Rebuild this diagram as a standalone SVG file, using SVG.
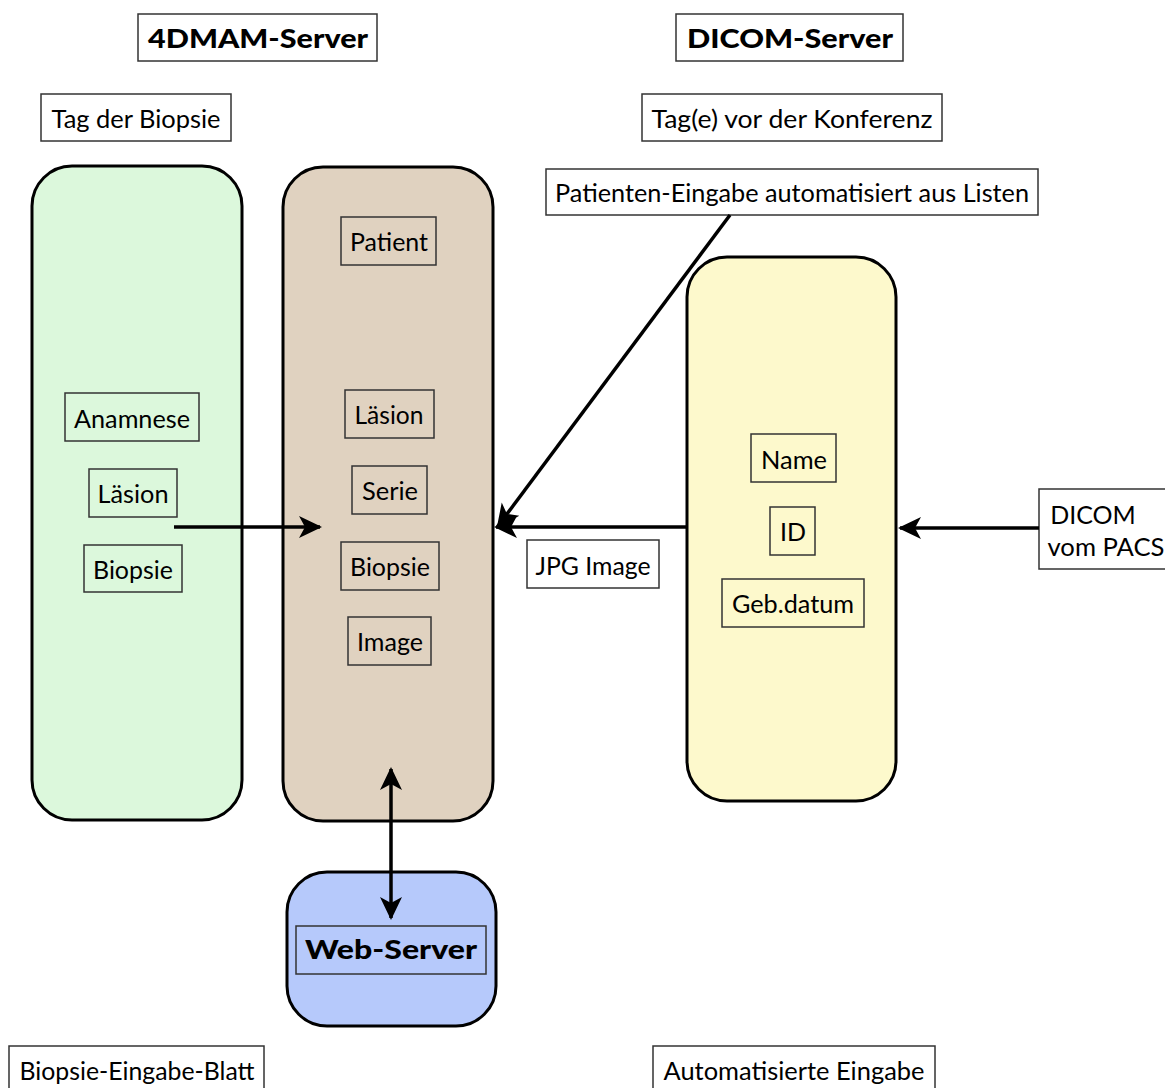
<svg xmlns="http://www.w3.org/2000/svg" width="1165" height="1088" viewBox="0 0 1165 1088">
<style>
text{font-family:Lato,"Liberation Sans",sans-serif;font-size:25px;fill:#000;text-anchor:middle}
.b{font-weight:900;font-size:26px}
.lab{fill:#fff;stroke:#333;stroke-width:1.5}
.in{fill:none;stroke:#333;stroke-width:1.5}
.col{stroke:#000;stroke-width:3}
.con{stroke:#000;stroke-width:3.5;fill:none}
</style>
<defs>
<marker id="ah" markerUnits="userSpaceOnUse" markerWidth="28" markerHeight="28" refX="21" refY="11" orient="auto-start-reverse" viewBox="0 0 28 22">
<path d="M0,0 L23,11 L0,22 L6,11 Z" fill="#000"/>
</marker>
</defs>
<rect width="1165" height="1088" fill="#fff"/>

<g id="title-4dmam"><rect class="lab" x="138" y="14" width="239" height="47"/><text class="b" x="258" y="48" textLength="220" lengthAdjust="spacingAndGlyphs">4DMAM-Server</text></g>
<g id="title-dicom"><rect class="lab" x="676" y="14" width="227" height="47"/><text class="b" x="790" y="48" textLength="206" lengthAdjust="spacingAndGlyphs">DICOM-Server</text></g>
<g id="tag-biopsie"><rect class="lab" x="41" y="94" width="190" height="47"/><text x="136" y="128" textLength="169" lengthAdjust="spacingAndGlyphs">Tag der Biopsie</text></g>
<g id="tag-konferenz"><rect class="lab" x="642" y="94" width="300" height="47"/><text x="792" y="128" textLength="281" lengthAdjust="spacingAndGlyphs">Tag(e) vor der Konferenz</text></g>
<g id="patienten-eingabe"><rect class="lab" x="546" y="169" width="492" height="46"/><text x="792" y="202" textLength="474" lengthAdjust="spacingAndGlyphs">Patienten-Eingabe automatisiert aus Listen</text></g>

<g id="biopsie-blatt-col"><rect class="col" x="32" y="166" width="210" height="654" rx="40" fill="#dcf8dc"/>
<rect class="in" x="65" y="393" width="134" height="48"/><text x="132" y="428" textLength="116" lengthAdjust="spacingAndGlyphs">Anamnese</text>
<rect class="in" x="89" y="469" width="88" height="48"/><text x="133" y="503" textLength="71" lengthAdjust="spacingAndGlyphs">Läsion</text>
<rect class="in" x="84" y="545" width="98" height="47"/><text x="133" y="579" textLength="80" lengthAdjust="spacingAndGlyphs">Biopsie</text>
</g>

<g id="server-4dmam-col"><rect class="col" x="283" y="167" width="210" height="654" rx="40" fill="#e0d2c0"/>
<rect class="in" x="341" y="217" width="95" height="48"/><text x="389" y="251" textLength="78" lengthAdjust="spacingAndGlyphs">Patient</text>
<rect class="in" x="345" y="390" width="89" height="48"/><text x="389" y="424" textLength="69" lengthAdjust="spacingAndGlyphs">Läsion</text>
<rect class="in" x="352" y="466" width="75" height="48"/><text x="390" y="500" textLength="56" lengthAdjust="spacingAndGlyphs">Serie</text>
<rect class="in" x="341" y="542" width="98" height="48"/><text x="390" y="576" textLength="80" lengthAdjust="spacingAndGlyphs">Biopsie</text>
<rect class="in" x="348" y="617" width="83" height="48"/><text x="390" y="651" textLength="66" lengthAdjust="spacingAndGlyphs">Image</text>
</g>

<g id="dicom-col"><rect class="col" x="687" y="257" width="209" height="544" rx="40" fill="#fdf9cc"/>
<rect class="in" x="751" y="434" width="85" height="48"/><text x="794" y="469" textLength="66" lengthAdjust="spacingAndGlyphs">Name</text>
<rect class="in" x="770" y="507" width="45" height="48"/><text x="793" y="541" textLength="26" lengthAdjust="spacingAndGlyphs">ID</text>
<rect class="in" x="722" y="579" width="142" height="48"/><text x="793" y="613" textLength="122" lengthAdjust="spacingAndGlyphs">Geb.datum</text>
</g>

<g id="web-server"><rect class="col" x="287" y="872" width="209" height="154" rx="40" fill="#b6c9fb"/>
<rect class="in" x="296" y="926" width="190" height="48"/><text class="b" x="391" y="959" textLength="172" lengthAdjust="spacingAndGlyphs">Web-Server</text>
</g>

<g id="dicom-pacs"><rect class="lab" x="1039" y="489" width="130" height="80"/><text x="1093" y="524">DICOM</text><text x="1106" y="556" textLength="117" lengthAdjust="spacingAndGlyphs">vom PACS</text></g>
<g id="jpg-image"><rect class="lab" x="527" y="540" width="132" height="48"/><text x="593" y="575" textLength="115" lengthAdjust="spacingAndGlyphs">JPG Image</text></g>
<g id="biopsie-eingabe-blatt"><rect class="lab" x="9" y="1046" width="255" height="46"/><text x="137" y="1080" textLength="235" lengthAdjust="spacingAndGlyphs">Biopsie-Eingabe-Blatt</text></g>
<g id="automatisierte-eingabe"><rect class="lab" x="653" y="1046" width="282" height="46"/><text x="794" y="1080" textLength="261" lengthAdjust="spacingAndGlyphs">Automatisierte Eingabe</text></g>

<g id="connectors">
<line class="con" x1="174" y1="527" x2="320" y2="527" marker-end="url(#ah)"/>
<line class="con" x1="687" y1="527" x2="496" y2="527" marker-end="url(#ah)"/>
<line class="con" x1="730" y1="215" x2="498" y2="526" marker-end="url(#ah)"/>
<line class="con" x1="1039" y1="528" x2="900" y2="528" marker-end="url(#ah)"/>
<line class="con" x1="391" y1="769" x2="391" y2="918" marker-start="url(#ah)" marker-end="url(#ah)"/>
</g>
</svg>
